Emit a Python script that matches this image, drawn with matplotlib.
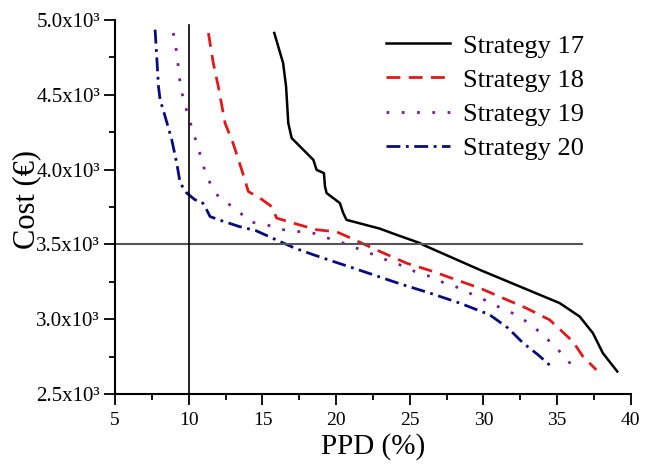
import numpy as np
import matplotlib
matplotlib.use("Agg")
import matplotlib.pyplot as plt
from matplotlib.ticker import MultipleLocator, FuncFormatter

plt.rcParams['font.family'] = ['Liberation Serif', 'DejaVu Serif']

# values (PPD %, cost)
ppd17 = [15.8, 16.4, 16.6, 16.75, 16.98, 17.77, 18.45, 18.67, 19.17, 19.24, 19.35, 20.25, 20.48, 20.7,
         22.97, 24.1, 25.68, 25.9, 29.75, 32.46, 35.17, 36.53, 37.43, 38.1, 39.08]
cost17 = [4912, 4711, 4555, 4310, 4210, 4132, 4065, 3998, 3976, 3887, 3843, 3776, 3709, 3664,
          3605, 3564, 3509, 3497, 3330, 3219, 3108, 3018, 2907, 2774, 2651]

ppd18 = [11.33, 11.66, 12.0, 12.46, 13.0, 13.59, 14.04, 14.83, 15.62, 15.96, 17.09, 18.67, 20.03,
         21.16, 21.72, 22.97, 24.77, 26.58, 28.16, 29.75, 31.33, 32.91, 34.49, 36.07, 36.75, 37.66]
cost18 = [4912, 4711, 4555, 4310, 4177, 3998, 3853, 3809, 3753, 3676, 3642, 3598, 3584,
          3535, 3509, 3453, 3375, 3319, 3263, 3208, 3141, 3074, 2996, 2851, 2751, 2662]

ppd19 = [8.95, 9.18, 9.41, 9.63, 9.97, 10.31, 10.65, 10.99, 11.44, 12.0, 12.91, 14.27, 15.28, 16.41,
         17.43, 18.45, 19.35, 20.37, 21.38, 22.4, 23.31, 24.32, 25.34, 26.36, 27.37, 28.39, 29.29,
         30.31, 31.2, 32.22, 33.24, 34.15, 35.17, 36.03]
cost19 = [4912, 4778, 4578, 4466, 4355, 4244, 4143, 4020, 3910, 3820, 3755, 3648, 3631, 3598,
          3586, 3575, 3545, 3513, 3475, 3437, 3400, 3364, 3319, 3286, 3241, 3208, 3163,
          3119, 3074, 3030, 2963, 2885, 2785, 2689]

ppd20 = [7.71, 7.82, 7.94, 8.05, 8.39, 8.84, 9.18, 9.41, 9.86, 10.42, 10.88, 11.1, 11.44, 12.23,
         13.4, 14.55, 16.19, 17.2, 18.45, 19.81, 21.16, 22.52, 23.87, 24.55, 26.36, 28.39, 30.42,
         31.67, 32.69, 33.7, 34.72]
cost20 = [4934, 4756, 4555, 4466, 4355, 4199, 4043, 3910, 3843, 3798, 3785, 3753, 3686, 3658,
          3620, 3592, 3519, 3475, 3431, 3386, 3342, 3297, 3252, 3230, 3175, 3108, 3030,
          2941, 2841, 2763, 2674]

labels = ['Strategy 17', 'Strategy 18', 'Strategy 19', 'Strategy 20']
cost_limit = 3500
ppd_limit = 10

fig = plt.figure(figsize=(6.47, 4.72), dpi=100)
ax = fig.add_axes([0.178, 0.165, 0.797, 0.793])

ax.plot(ppd17, cost17, color='black', lw=1.8, label=labels[0])
ax.plot(ppd18, cost18, color='#e01a1a', lw=2, dashes=(5, 3), label=labels[1])
ax.plot(ppd19, cost19, color='#7b1d8c', lw=2, dashes=(1, 4.5), label=labels[2])
ax.plot(ppd20, cost20, color='#0a0a80', lw=2, dashes=(5, 2, 1, 2), label=labels[3])

# limit lines
ax.plot([5, 36.7], [cost_limit, cost_limit], color='#555555', lw=1.5)
ax.plot([ppd_limit, ppd_limit], [2500, 4967], color='black', lw=1.2)

ax.set_xlim(5, 40)
ax.set_ylim(2500, 5000)
ax.xaxis.set_major_locator(MultipleLocator(5))
ax.xaxis.set_minor_locator(MultipleLocator(2.5))
ax.yaxis.set_major_locator(MultipleLocator(500))
ax.yaxis.set_minor_locator(MultipleLocator(250))
ax.yaxis.set_major_formatter(FuncFormatter(lambda v, p: f'{v/1000:.1f}x10\u00b3'))

for s in ['top', 'right']:
    ax.spines[s].set_visible(False)
for s in ['left', 'bottom']:
    ax.spines[s].set_linewidth(1.5)

ax.tick_params(which='major', direction='out', length=8, width=1.3)
ax.tick_params(which='minor', direction='out', length=4, width=1.3)
ax.tick_params(axis='x', labelsize=14, pad=5)
ax.tick_params(axis='y', labelsize=15, pad=3)

ax.set_xlabel('PPD (%)', fontsize=21)
ax.set_ylabel('Cost (€)', fontsize=22)
ax.xaxis.set_label_coords(0.5, -0.105)
ax.yaxis.set_label_coords(-0.143, 0.52)

ax.legend(loc='upper right', bbox_to_anchor=(0.955, 1.025), frameon=False, fontsize=19,
          handlelength=2.4, handletextpad=0.5, labelspacing=0.4)

fig.savefig('out.png', dpi=100)
